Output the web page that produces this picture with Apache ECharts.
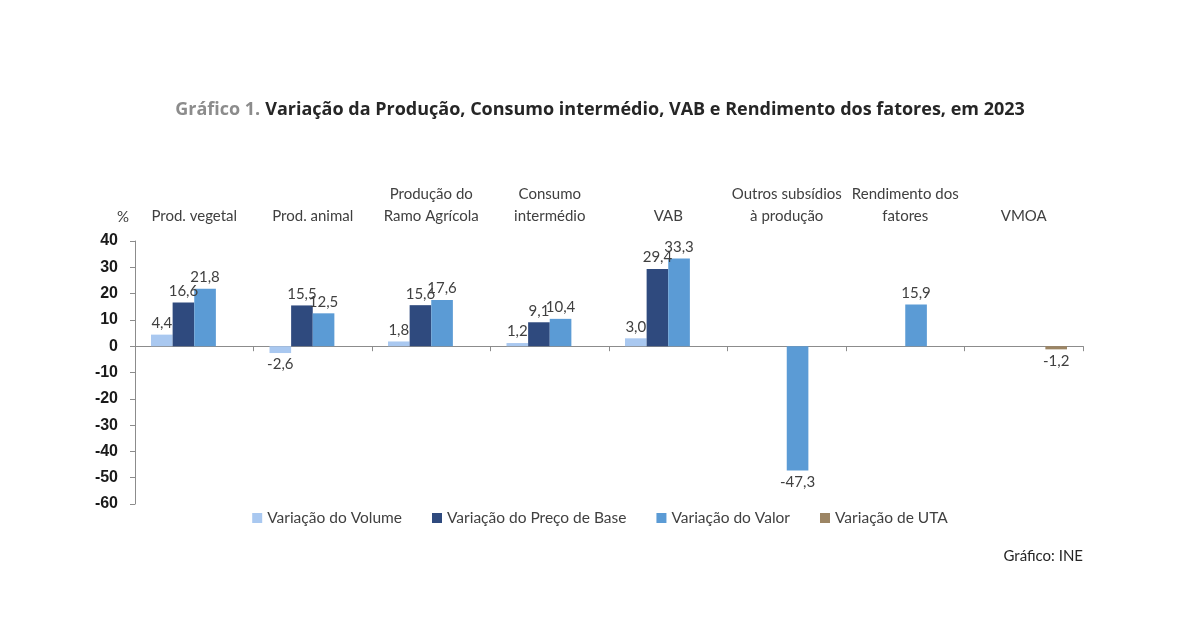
<!DOCTYPE html>
<html>
<head>
<meta charset="utf-8">
<script src="https://cdn.jsdelivr.net/npm/echarts@6/dist/echarts.min.js"></script>
<style>html,body{margin:0;padding:0;background:#fff}#c{width:1200px;height:630px}</style>
</head>
<body>
<div id="c"></div>
<script>
var categories = ['Prod. vegetal', 'Prod. animal', 'Produção do\nRamo Agrícola', 'Consumo\nintermédio', 'VAB', 'Outros subsídios\nà produção', 'Rendimento dos\nfatores', 'VMOA'];
var seriesNames = ['Variação do Volume', 'Variação do Preço de Base', 'Variação do Valor', 'Variação de UTA'];
var volume = [4.4, -2.6, 1.8, 1.2, 3.0, null, null, null];
var precoBase = [16.6, 15.5, 15.6, 9.1, 29.4, null, null, null];
var valor = [21.8, 12.5, 17.6, 10.4, 33.3, -47.3, 15.9, null];
var uta = [null, null, null, null, null, null, null, -1.2];
var yTicks = [-60, -50, -40, -30, -20, -10, 0, 10, 20, 30, 40];
var colors = ['#a9c8f0', '#2f4a7e', '#5b9bd5', '#9c8564'];

var font = "Lato, 'Open Sans', sans-serif";
function toData(arr) {
  return arr.map(function (v) {
    if (v === null) return '-';
    return { value: v, label: { position: v < 0 ? 'bottom' : 'top' } };
  });
}
var allSeries = [volume, precoBase, valor, uta].map(function (arr, i) {
  return {
    name: seriesNames[i],
    type: 'bar',
    data: toData(arr),
    barGap: '0%',
    barCategoryGap: '27%',
    itemStyle: { color: colors[i] },
    label: {
      show: true,
      distance: 4,
      color: '#404040',
      fontFamily: font,
      fontSize: 15,
      formatter: function (p) { return p.value.toFixed(1).replace('.', ','); }
    }
  };
});

var chart = echarts.init(document.getElementById('c'));
chart.setOption({
  animation: false,
  backgroundColor: '#ffffff',
  title: {
    text: '{a|Gráfico 1.} {b|Variação da Produção, Consumo intermédio, VAB e Rendimento dos fatores, em 2023}',
    left: 'center',
    top: 96,
    textStyle: {
      rich: {
        a: { color: '#8c8c8c', fontSize: 18, fontWeight: 'bold', fontFamily: "'Open Sans', sans-serif" },
        b: { color: '#262626', fontSize: 18, fontWeight: 'bold', fontFamily: "'Open Sans', sans-serif" }
      }
    }
  },
  legend: {
    bottom: 99,
    left: 'center',
    itemWidth: 10,
    itemHeight: 10,
    itemGap: 30,
    icon: 'rect',
    textStyle: { color: '#404040', fontSize: 15.5, fontFamily: font },
    data: seriesNames
  },
  grid: { left: 135, right: 117, top: 241, bottom: 126, containLabel: false },
  xAxis: [
    {
      type: 'category',
      data: categories,
      axisLine: { onZero: true, lineStyle: { color: '#8c8c8c' } },
      axisTick: { show: true, length: 5, lineStyle: { color: '#8c8c8c' } },
      axisLabel: { show: false }
    },
    {
      type: 'category',
      data: categories,
      position: 'top',
      axisLine: { show: false },
      axisTick: { show: false },
      axisLabel: { interval: 0, color: '#404040', fontSize: 15, fontFamily: font, margin: 14, lineHeight: 22 }
    }
  ],
  yAxis: {
    type: 'value',
    min: yTicks[0],
    max: yTicks[yTicks.length - 1],
    interval: 10,
    name: '%',
    nameLocation: 'end',
    nameGap: 16,
    nameTextStyle: { color: '#404040', fontSize: 15, fontFamily: font, align: 'right', padding: [0, 6, 0, 0] },
    axisLine: { show: true, lineStyle: { color: '#8c8c8c' } },
    axisTick: { show: true, length: 5, lineStyle: { color: '#8c8c8c' } },
    splitLine: { show: false },
    axisLabel: { color: '#1a1a1a', fontSize: 16, fontWeight: 'bold', fontFamily: "'Liberation Sans', Arial, sans-serif", margin: 17 }
  },
  series: allSeries,
  graphic: [{
    type: 'text',
    right: 117,
    top: 549,
    style: { text: 'Gráfico: INE', fill: '#262626', fontSize: 15, fontFamily: font }
  }]
});
</script>
</body>
</html>
